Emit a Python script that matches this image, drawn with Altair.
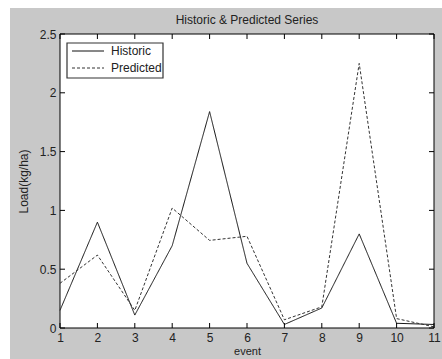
import altair as alt
import pandas as pd

events = [1, 2, 3, 4, 5, 6, 7, 8, 9, 10, 11]
historic = [0.15, 0.90, 0.11, 0.70, 1.84, 0.55, 0.03, 0.17, 0.80, 0.04, 0.03]
predicted = [0.38, 0.62, 0.15, 1.02, 0.745, 0.78, 0.07, 0.18, 2.25, 0.08, 0.01]
series_names = ["Historic", "Predicted"]
y_ticks = [0, 0.5, 1, 1.5, 2, 2.5]
title_text = ["Historic & Predicted Series"]

W, H = 374, 294
FONT = "Liberation Sans"
COLORS = ["#111111", "#333333"]
DASHES = [[1, 0], [3, 2]]

df = pd.DataFrame({
    "event": events * 2,
    "load": historic + predicted,
    "series": [series_names[0]] * len(events) + [series_names[1]] * len(events),
})
xt = pd.DataFrame({"event": events})
yt = pd.DataFrame({"v": y_ticks})
tt = pd.DataFrame({"t": title_text})

xs = alt.Scale(domain=[1, 11], nice=False, zero=False)
ys = alt.Scale(domain=[0, 2.5], nice=False)
xa = alt.Axis(title="event", values=events, format="d", tickSize=0, zindex=1,
              labelOverlap=False, labelFlush=False, labelBound=False,
              labelPadding=4, titlePadding=2, titleFontSize=11, domain=False, grid=False)
ya = alt.Axis(title="Load(kg/ha)", values=y_ticks, format="~g", tickSize=0, zindex=1,
              labelOverlap=False, labelFlush=False, labelBound=False,
              labelPadding=4, titlePadding=9, domain=False, grid=False)

bg = alt.Chart(tt).mark_rect(color="#c8c8c8", clip=False).encode(
    x=alt.value(-50), x2=alt.value(W + 10), y=alt.value(-26), y2=alt.value(H + 34))
panel = alt.Chart(tt).mark_rect(color="white", stroke="black", strokeWidth=1).encode(
    x=alt.value(0), x2=alt.value(W), y=alt.value(0), y2=alt.value(H))
title = alt.Chart(tt).mark_text(font=FONT, fontSize=12, color="#222222", baseline="middle", align="center").encode(
    text="t:N", x=alt.value(W / 2), y=alt.value(-14))

lines = alt.Chart(df).mark_line(strokeWidth=1).encode(
    x=alt.X("event:Q", scale=xs, axis=xa),
    y=alt.Y("load:Q", scale=ys, axis=ya),
    color=alt.Color("series:N", scale=alt.Scale(domain=series_names, range=COLORS), legend=None),
    strokeDash=alt.StrokeDash("series:N", scale=alt.Scale(domain=series_names, range=DASHES), legend=None),
)

tick_len = 5
xb = alt.Chart(xt).mark_rule(color="black").encode(
    x=alt.X("event:Q", scale=xs, axis=xa), y=alt.value(H), y2=alt.value(H - tick_len))
xtop = alt.Chart(xt).mark_rule(color="black").encode(
    x=alt.X("event:Q", scale=xs, axis=xa), y=alt.value(0), y2=alt.value(tick_len))
yl = alt.Chart(yt).mark_rule(color="black").encode(
    y=alt.Y("v:Q", scale=ys, axis=ya), x=alt.value(0), x2=alt.value(tick_len))
yr = alt.Chart(yt).mark_rule(color="black").encode(
    y=alt.Y("v:Q", scale=ys, axis=ya), x=alt.value(W), x2=alt.value(W - tick_len))

# legend (drawn as a box with sample lines and labels)
leg_layers = [
    alt.Chart(tt).mark_rect(fill="white", stroke="#333333", strokeWidth=1.2).encode(
        x=alt.value(7), x2=alt.value(103), y=alt.value(9), y2=alt.value(44))
]
for i, name in enumerate(series_names):
    ly = 17 + 17 * i
    ld = pd.DataFrame({"series": [name]})
    leg_layers.append(alt.Chart(ld).mark_rule(color=COLORS[i], strokeDash=DASHES[i], strokeWidth=1).encode(
        x=alt.value(12), x2=alt.value(44), y=alt.value(ly)))
    leg_layers.append(alt.Chart(ld).mark_text(font=FONT, fontSize=12, color="#222222",
                                              align="left", baseline="middle").encode(
        text="series:N", x=alt.value(51), y=alt.value(ly)))

chart = alt.layer(bg, panel, title, lines, xb, xtop, yl, yr, *leg_layers).properties(
    width=W, height=H,
    autosize=alt.AutoSizeParams(type="none"),
    padding={"left": 60, "top": 34, "right": 8, "bottom": 31},
    background="white",
).configure_view(stroke=None).configure_axis(
    labelFont=FONT, labelFontSize=12, labelColor="#222222", labelOverlap=False,
    titleFont=FONT, titleFontSize=12, titleFontWeight="normal", titleColor="#222222",
)

chart.save("out.html", embed_options={"renderer": "svg", "actions": False})
